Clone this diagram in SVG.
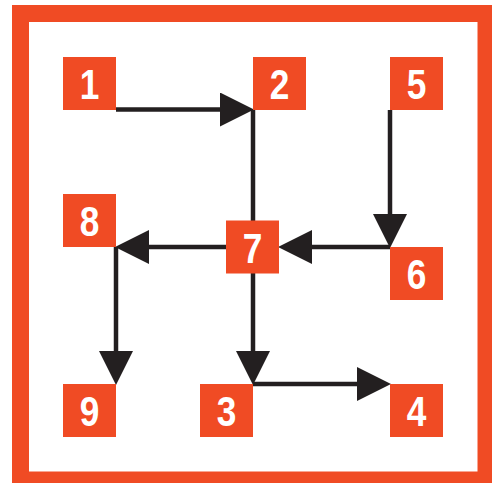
<svg xmlns="http://www.w3.org/2000/svg" width="492" height="483" viewBox="0 0 492 483">
<style>
.box{fill:#f04b24}
.lbl{fill:#fff;font-family:"Liberation Sans",Arial,sans-serif;font-weight:bold;font-size:43px;text-anchor:middle}
.ln{stroke:#231f20;stroke-width:4.5;fill:none}
</style>
<defs>
<marker id="ah" markerUnits="userSpaceOnUse" markerWidth="34" markerHeight="34" viewBox="0 0 32 32" refX="16" refY="16" orient="auto">
<path d="M0,0 L32,16 L0,32 z" fill="#231f20"/>
</marker>
</defs>
<rect x="20.5" y="13.5" width="465.5" height="466.5" fill="none" stroke="#f04b24" stroke-width="17"/>
<g id="connectors">
<path class="ln" d="M116,109.5 H237" marker-end="url(#ah)"/>
<path class="ln" d="M253,110 V221"/>
<path class="ln" d="M390,110 V231" marker-end="url(#ah)"/>
<path class="ln" d="M390,247 H295" marker-end="url(#ah)"/>
<path class="ln" d="M226,247 H132" marker-end="url(#ah)"/>
<path class="ln" d="M116,247 V368" marker-end="url(#ah)"/>
<path class="ln" d="M253,273 V368" marker-end="url(#ah)"/>
<path class="ln" d="M253,384 H374" marker-end="url(#ah)"/>
</g>
<g id="n1"><rect class="box" x="63" y="57" width="53" height="53"/><text class="lbl" transform="translate(89.5,99) scale(0.82,1)">1</text></g>
<g id="n2"><rect class="box" x="253" y="57" width="53" height="53"/><text class="lbl" transform="translate(279.5,99) scale(0.82,1)">2</text></g>
<g id="n5"><rect class="box" x="390" y="57" width="53" height="53"/><text class="lbl" transform="translate(416.5,99) scale(0.82,1)">5</text></g>
<g id="n8"><rect class="box" x="63" y="194" width="53" height="53"/><text class="lbl" transform="translate(89.5,236) scale(0.82,1)">8</text></g>
<g id="n7"><rect class="box" x="226" y="220.5" width="53" height="53"/><text class="lbl" transform="translate(252.5,262.5) scale(0.82,1)">7</text></g>
<g id="n6"><rect class="box" x="390" y="247" width="53" height="53"/><text class="lbl" transform="translate(416.5,289) scale(0.82,1)">6</text></g>
<g id="n9"><rect class="box" x="63" y="384" width="53" height="53"/><text class="lbl" transform="translate(89.5,426) scale(0.82,1)">9</text></g>
<g id="n3"><rect class="box" x="200" y="384" width="53" height="53"/><text class="lbl" transform="translate(226.5,426) scale(0.82,1)">3</text></g>
<g id="n4"><rect class="box" x="390" y="384" width="53" height="53"/><text class="lbl" transform="translate(416.5,426) scale(0.82,1)">4</text></g>
</svg>
